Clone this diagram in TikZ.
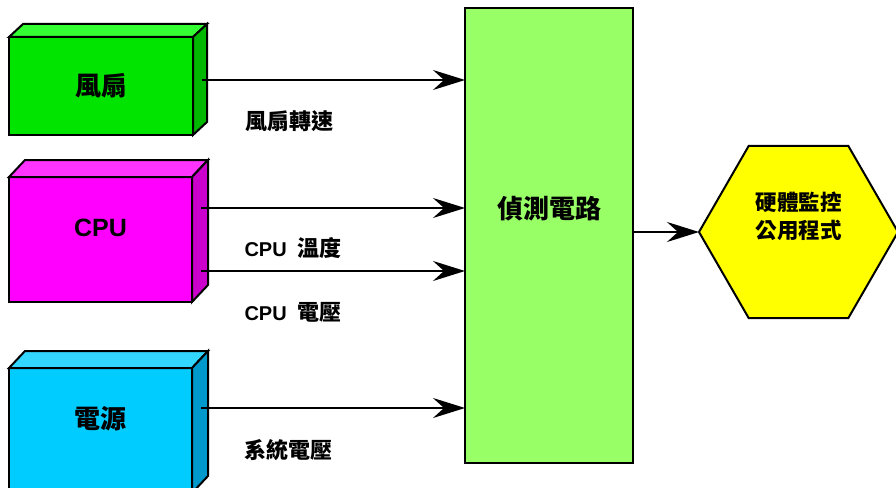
\documentclass[tikz,border=0pt]{standalone}
\usepackage{fontspec}
\setmainfont{Liberation Sans}
\newfontfamily\cjk{Noto Sans CJK TC}
\usetikzlibrary{arrows.meta,calc,positioning,shapes.geometric}

\definecolor{fanfront}{HTML}{00E400}
\definecolor{fantop}{HTML}{33FF33}
\definecolor{fanside}{HTML}{00B800}
\definecolor{cpufront}{HTML}{FF00FF}
\definecolor{cputop}{HTML}{FF33FF}
\definecolor{cpuside}{HTML}{CC00CC}
\definecolor{pwrfront}{HTML}{00CCFF}
\definecolor{pwrtop}{HTML}{33D6FF}
\definecolor{pwrside}{HTML}{0099CC}
\definecolor{detfill}{HTML}{99FF66}
\definecolor{hexfill}{HTML}{FFFF00}

\begin{document}
\begin{tikzpicture}[x=1pt, y=-1pt, >={Stealth[length=32pt,width=20pt,inset=11pt]},
    front/.style={draw, line width=2pt, outer sep=0pt, inner sep=0pt},
    face/.style={draw, line width=2pt, line join=miter},
    arr/.style={->, line width=2pt},
    boxtxt/.style={font=\fontsize{26}{30}\selectfont\bfseries\cjk},
    cputxt/.style={font=\fontsize{25}{30}\selectfont\bfseries},
    lbl/.style={font=\fontsize{20}{24}\selectfont\bfseries, anchor=west},
    zh/.style={font=\fontsize{22}{24}\selectfont\bfseries\cjk},
    hexbox/.style={draw, line width=2pt, fill=hexfill, regular polygon,
        regular polygon sides=6, minimum size=199pt, inner sep=0pt, outer sep=0pt}]
    \useasboundingbox (0,0) rectangle (896,487);
    \clip (0,0) rectangle (896,487);

    % Fan box
    \node [front, fill=fanfront, minimum width=184pt, minimum height=98pt,
        label={[boxtxt]center:風扇}] (fan) at (101,86) {};
    \draw [face, fill=fantop] (fan.north west) -- ++(14,-13)
        -- ($(fan.north east)+(14,-13)$) -- (fan.north east) -- cycle;
    \draw [face, fill=fanside] (fan.north east) -- ++(14,-13)
        -- ($(fan.south east)+(14,-13)$) -- (fan.south east) -- cycle;

    % CPU box
    \node [front, fill=cpufront, minimum width=183pt, minimum height=125pt,
        label={[cputxt, yshift=12pt]center:CPU}] (cpu) at (100.5,239.5) {};
    \draw [face, fill=cputop] (cpu.north west) -- ++(16,-17)
        -- ($(cpu.north east)+(16,-17)$) -- (cpu.north east) -- cycle;
    \draw [face, fill=cpuside] (cpu.north east) -- ++(16,-17)
        -- ($(cpu.south east)+(16,-17)$) -- (cpu.south east) -- cycle;

    % Power box
    \node [front, fill=pwrfront, minimum width=183pt, minimum height=125pt,
        label={[boxtxt, yshift=12pt]center:電源}] (pwr) at (100.5,430.5) {};
    \draw [face, fill=pwrtop] (pwr.north west) -- ++(16,-17)
        -- ($(pwr.north east)+(16,-17)$) -- (pwr.north east) -- cycle;
    \draw [face, fill=pwrside] (pwr.north east) -- ++(16,-17)
        -- ($(pwr.south east)+(16,-17)$) -- (pwr.south east) -- cycle;

    % Detection circuit
    \node [front, fill=detfill, minimum width=168pt, minimum height=455pt,
        label={[boxtxt, yshift=27pt]center:偵測電路}] (det) at (549,235.5) {};

    % Monitor software
    \node [hexbox] (soft) at (798.5,232) {};
    \node [font=\fontsize{21.5}{28}\selectfont\bfseries\cjk, align=center]
        (softtxt) at ($(soft)+(0,-16)$) {硬體監控\\公用程式};

    % Signals
    \coordinate (fanout) at ([xshift=9pt, yshift=6pt]fan.east);
    \coordinate (tempout) at ([xshift=9pt, yshift=31.5pt]cpu.east);
    \coordinate (voltout) at ([xshift=9pt, yshift=-31.5pt]cpu.east);
    \coordinate (pwrout) at ([xshift=9pt, yshift=22.5pt]pwr.east);
    \draw [arr] (fanout) -- (fanout -| det.west);
    \draw [arr] (tempout) -- (tempout -| det.west);
    \draw [arr] (voltout) -- (voltout -| det.west);
    \draw [arr] (pwrout) -- (pwrout -| det.west);
    \draw [arr] (det.east |- soft.west) -- (soft.west);

    \node [below right=41pt and 40pt of fanout, lbl, zh] (fanlbl) {風扇轉速};
    \node [below right=40pt and 40pt of tempout, lbl] (templbl)
        {CPU\ \ {\fontsize{22}{24}\selectfont\cjk 溫度}};
    \node [below right=41pt and 40pt of voltout, lbl] (voltlbl)
        {CPU\ \ {\fontsize{22}{24}\selectfont\cjk 電壓}};
    \node [below right=42pt and 40pt of pwrout, lbl, zh] (pwrlbl) {系統電壓};
\end{tikzpicture}
\end{document}
